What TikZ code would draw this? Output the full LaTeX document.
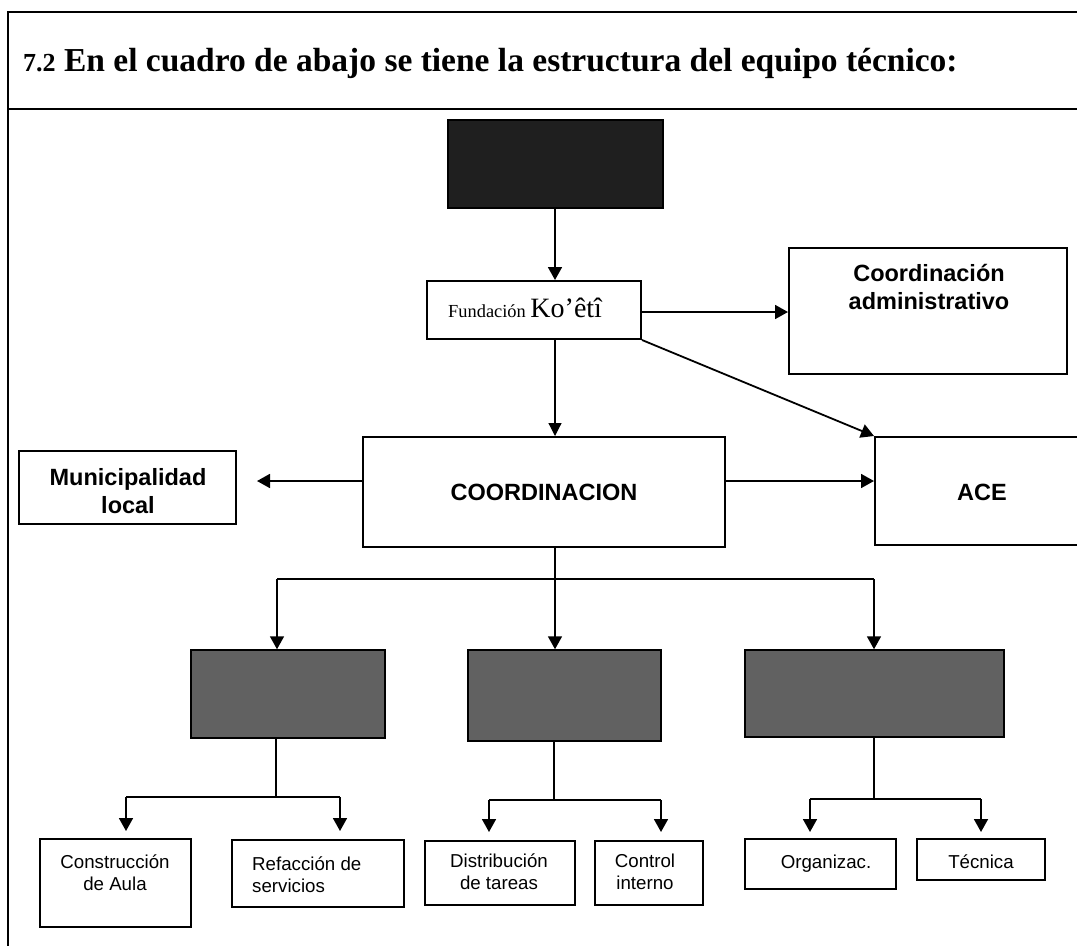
\documentclass[tikz,border=0pt]{standalone}
\usepackage{fontspec}
\setmainfont{Liberation Serif}
\newfontfamily\arialf{Liberation Sans}
\usetikzlibrary{arrows.meta,fit}
\begin{document}
\begin{tikzpicture}[x=1pt,y=-1pt,
  frameline/.style={line width=1.6pt,black},
  box/.style={draw=black,line width=2pt,inner sep=0pt,fill=white},
  darkbox/.style={draw=black,line width=1.5pt,inner sep=0pt,fill=black!88},
  shadebox/.style={draw=black,line width=1.5pt,inner sep=0pt,fill=black!62},
  conn/.style={line width=1.8pt,black},
  arr/.style={conn,-{Triangle[width=14pt,length=13pt]}},
  thinarr/.style={line width=1.2pt,black,-{Triangle[width=13pt,length=13pt]}},
  boldtxt/.style={inner sep=0pt,font=\arialf\bfseries\fontsize{23.5}{28}\selectfont},
  smalltxt/.style={inner sep=0pt,font=\arialf\fontsize{18.7}{22.5}\selectfont}
]
\useasboundingbox (0,0) rectangle (1077,946);
\clip (0,0) rectangle (1077,946);

% frame
\draw[frameline] (1077,12) -- (8,12) -- (8,946);
\draw[frameline] (8,109) -- (1077,109);

% title
\node[anchor=base west,inner sep=0pt] (title) at (23,71)
  {\bfseries{\fontsize{26}{26}\selectfont 7.2}\fontsize{33.5}{33.5}\selectfont\ En el cuadro de abajo se tiene la estructura del equipo técnico:};

% boxes
\node[darkbox,fit={(448,120) (663,208)}] (top) {};
\node[box,fit={(427,281) (641,339)}] (fund) {};
\node[box,fit={(789,248) (1067,374)}] (cadm) {};
\node[box,fit={(363,437) (725,547)}] (coord) {};
\node[box,fit={(19,451) (236,524)}] (muni) {};
\node[box,fit={(875,437) (1089,545)}] (ace) {};

\node[shadebox,fit={(191,650) (385,738)}] (s1) {};
\node[shadebox,fit={(468,650) (661,741)}] (s2) {};
\node[shadebox,fit={(745,650) (1004,737)}] (s3) {};

\node[box,fit={(40,839) (191,927)}] (b1) {};
\node[box,fit={(232,840) (404,907)}] (b2) {};
\node[box,fit={(425,841) (575,905)}] (b3) {};
\node[box,fit={(595,841) (703,905)}] (b4) {};
\node[box,fit={(745,839) (896,889)}] (b5) {};
\node[box,fit={(917,839) (1045,880)}] (b6) {};

% texts
\node[anchor=base west,inner sep=0pt] (fundtxt) at (448,317)
  {\fontsize{18.4}{20}\selectfont Fundación \fontsize{28}{28}\selectfont Ko’êtî};
\node[boldtxt,anchor=base] (cadmtxt) at (929,281)
  {\begin{tabular}[t]{@{}c@{}}Coordinación\\administrativo\end{tabular}};
\node[boldtxt,anchor=base] (coordtxt) at (544,500) {COORDINACION};
\node[boldtxt,anchor=base] (munitxt) at (128,485)
  {\begin{tabular}[t]{@{}c@{}}Municipalidad\\local\end{tabular}};
\node[boldtxt,anchor=base] (acetxt) at (982,500) {ACE};

\node[smalltxt,anchor=base] (b1txt) at (115,868)
  {\begin{tabular}[t]{@{}c@{}}Construcción\\de Aula\end{tabular}};
\node[smalltxt,anchor=base west] (b2txt) at (252,870)
  {\begin{tabular}[t]{@{}l@{}}Refacción de\\servicios\end{tabular}};
\node[smalltxt,anchor=base] (b3txt) at (499,867)
  {\begin{tabular}[t]{@{}c@{}}Distribución\\de tareas\end{tabular}};
\node[smalltxt,anchor=base] (b4txt) at (645,867)
  {\begin{tabular}[t]{@{}c@{}}Control\\interno\end{tabular}};
\node[smalltxt,anchor=base] (b5txt) at (826,868) {Organizac.};
\node[smalltxt,anchor=base] (b6txt) at (981,868) {Técnica};

% connectors, upper part
\coordinate (cx) at (555,0);
\draw[arr] (top.south -| cx) -- (fund.north -| cx);
\draw[arr] (fund.east |- 0,312) -- (cadm.west |- 0,312);
\draw[arr] (fund.south east) -- (ace.north west);
\draw[thinarr] (fund.south -| cx) -- (coord.north -| cx);
\coordinate (mtip) at (257,481);
\draw[arr] (coord.west |- mtip) -- (mtip);
\draw[arr] (coord.east |- mtip) -- (ace.west |- mtip);

% level 1 distribution
\coordinate (j1) at (277,579);
\coordinate (j2) at (555,579);
\coordinate (j3) at (874,579);
\draw[conn] (coord.south -| j2) -- (j2);
\draw[conn] (j1) -- (j3);
\draw[arr] (j1) -- (s1.north -| j1);
\draw[arr] (j2) -- (s2.north -| j2);
\draw[arr] (j3) -- (s3.north -| j3);

% level 2 distribution
\coordinate (k1) at (276,797);
\coordinate (k1a) at (126,797);
\coordinate (k1b) at (340,797);
\draw[conn] (s1.south -| k1) -- (k1);
\draw[conn] (k1a) -- (k1b);
\draw[arr,shorten >=7pt] (k1a) -- (b1.north -| k1a);
\draw[arr,shorten >=8pt] (k1b) -- (b2.north -| k1b);

\coordinate (k2) at (554,800);
\coordinate (k2a) at (489,800);
\coordinate (k2b) at (661,800);
\draw[conn] (s2.south -| k2) -- (k2);
\draw[conn] (k2a) -- (k2b);
\draw[arr,shorten >=8pt] (k2a) -- (b3.north -| k2a);
\draw[arr,shorten >=8pt] (k2b) -- (b4.north -| k2b);

\coordinate (k3) at (874,799);
\coordinate (k3a) at (810,799);
\coordinate (k3b) at (981,799);
\draw[conn] (s3.south -| k3) -- (k3);
\draw[conn] (k3a) -- (k3b);
\draw[arr,shorten >=6pt] (k3a) -- (b5.north -| k3a);
\draw[arr,shorten >=6pt] (k3b) -- (b6.north -| k3b);
\end{tikzpicture}
\end{document}
